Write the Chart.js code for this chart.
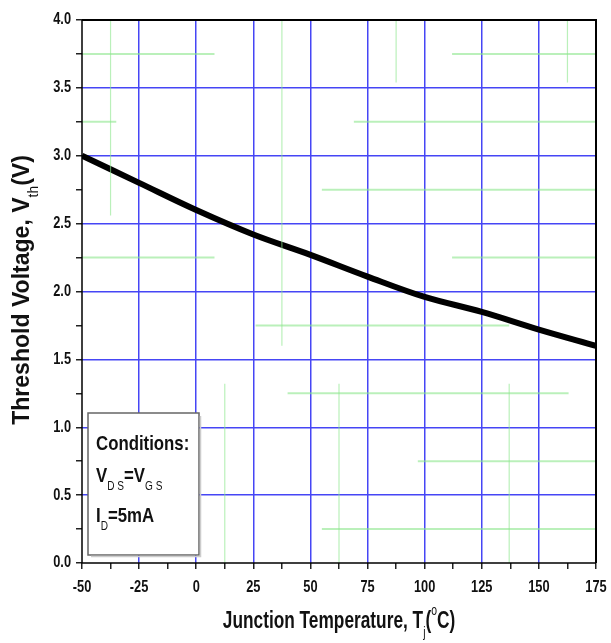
<!DOCTYPE html>
<html>
<head>
<meta charset="utf-8">
<script src="https://cdn.jsdelivr.net/npm/chart.js@4.4.0/dist/chart.umd.min.js"></script>
<style>
  html, body { margin: 0; padding: 0; background: #fff; }
  #wrap { width: 611px; height: 643px; position: relative; }
</style>
</head>
<body>
<div id="wrap"><canvas id="line-chart"></canvas></div>
<script>
// junction temperature (C) and threshold voltage (V)
var temps = [-50, -25, 0, 25, 50, 75, 100, 125, 150, 175];
var vth = [3.0, 2.80, 2.60, 2.42, 2.27, 2.11, 1.96, 1.85, 1.72, 1.60];

var xMin = -50, xMax = 175, xStep = 12.5, xLabelStep = 25;
var yMin = 0, yMax = 4.0, yStep = 0.25, yLabelStep = 0.5;

// faint green scan lines in the original: [voltage, fromTemp, toTemp] and [temp, fromV, toV]
var greenH = [[3.75, -50, 8], [3.25, -50, -35], [2.25, -50, 8], [3.75, 112, 175], [3.25, 69, 175],
              [2.75, 55, 175], [2.25, 112, 175], [1.75, 26, 137], [1.25, 40, 163], [0.75, 97, 175], [0.25, 55, 175]];
var greenV = [[-37.5, 4.0, 2.56], [37.5, 4.0, 1.6], [87.5, 4.0, 3.54], [162.5, 4.0, 3.54],
              [12.5, 1.32, 0], [62.5, 1.32, 0], [137, 1.32, 0]];

var fontName = "'Liberation Sans', Arial, sans-serif";

function isMajor(v, step) {
    return Math.abs(v / step - Math.round(v / step)) < 1e-6;
}

// text with sub/superscripts, parts = [[text, 'n'|'sub'|'sup'], ...]
function richWidth(ctx, parts, size) {
    var w = 0;
    for (var i = 0; i < parts.length; i++) {
        var s = parts[i][1] == 'n' ? size : size * 0.6;
        ctx.font = (parts[i][1] == 'n' ? 'bold ' : '') + s + 'px ' + fontName;
        w += ctx.measureText(parts[i][0]).width;
    }
    return w;
}
function richText(ctx, parts, x, y, size) {
    for (var i = 0; i < parts.length; i++) {
        var kind = parts[i][1];
        var s = kind == 'n' ? size : size * 0.6;
        var dy = kind == 'sub' ? size * 0.5 : (kind == 'sup' ? -size * 0.42 : 0);
        ctx.font = (kind == 'n' ? 'bold ' : '') + s + 'px ' + fontName;
        ctx.fillText(parts[i][0], x, y + dy);
        x += ctx.measureText(parts[i][0]).width;
    }
}

var extras = {
    id: 'extras',
    afterDraw: function(chart) {
        var ctx = chart.ctx, a = chart.chartArea;
        var sx = chart.scales.x, sy = chart.scales.y;
        ctx.save();
        // frame
        ctx.strokeStyle = '#000';
        ctx.lineWidth = 2;
        ctx.beginPath();
        ctx.moveTo(a.left, a.top); ctx.lineTo(a.right, a.top); ctx.lineTo(a.right, a.bottom);
        ctx.stroke();
        ctx.lineWidth = 1.5;
        ctx.beginPath();
        ctx.moveTo(a.left, a.top); ctx.lineTo(a.left, a.bottom); ctx.lineTo(a.right, a.bottom);
        ctx.stroke();

        // condensed tick labels
        ctx.fillStyle = '#111';
        ctx.textBaseline = 'middle';
        ctx.font = 'bold 16px ' + fontName;
        var cx = 0.8;
        ctx.textAlign = 'center';
        sx.ticks.forEach(function(t) {
            if (!isMajor(t.value, xLabelStep)) return;
            var px = sx.getPixelForValue(t.value);
            ctx.save();
            ctx.translate(px, 588);
            ctx.scale(cx, 1);
            ctx.fillText(String(t.value), 0, 0);
            ctx.restore();
        });
        ctx.textAlign = 'right';
        sy.ticks.forEach(function(t) {
            if (!isMajor(t.value, yLabelStep)) return;
            var py = sy.getPixelForValue(t.value);
            ctx.save();
            ctx.translate(71, py);
            ctx.scale(cx, 1);
            ctx.fillText(t.value.toFixed(1), 0, 0);
            ctx.restore();
        });
        ctx.textAlign = 'left';

        // x title (narrow)
        var xt = [['Junction Temperature, T', 'n'], ['j', 'sub'], ['(', 'n'], ['o', 'sup'], ['C)', 'n']];
        var w = richWidth(ctx, xt, 24);
        ctx.save();
        ctx.translate((a.left + a.right) / 2, 621);
        ctx.scale(0.72, 1);
        richText(ctx, xt, -w / 2, 0, 24);
        ctx.restore();
        // y title
        var yt = [['Threshold Voltage, V', 'n'], ['th', 'sub'], ['(V)', 'n']];
        ctx.save();
        ctx.translate(22, 290);
        ctx.rotate(-Math.PI / 2);
        w = richWidth(ctx, yt, 24);
        ctx.scale(0.96, 1);
        richText(ctx, yt, -w / 2, 0, 24);
        ctx.restore();
        ctx.restore();

        // conditions box
        ctx.save();
        ctx.fillStyle = '#fff';
        ctx.fillRect(88, 413, 111, 142);
        ctx.strokeStyle = '#666';
        ctx.lineWidth = 1.5;
        ctx.strokeRect(88, 413, 111, 142);
        ctx.strokeStyle = '#ccc';
        ctx.beginPath();
        ctx.moveTo(91, 556.5); ctx.lineTo(200.5, 556.5); ctx.lineTo(200.5, 416);
        ctx.stroke();
        ctx.fillStyle = '#111';
        ctx.textBaseline = 'middle';
        var lines = [
            [[['Conditions:', 'n']], 444],
            [[['V', 'n'], ['D S', 'sub'], ['=V', 'n'], ['G S', 'sub']], 476],
            [[['I', 'n'], ['D', 'sub'], ['=5mA', 'n']], 516]
        ];
        lines.forEach(function(l) {
            ctx.save();
            ctx.translate(96, l[1]);
            ctx.scale(0.8, 1);
            richText(ctx, l[0], 0, 0, 21);
            ctx.restore();
        });
        ctx.restore();
    }
};

var green = 'rgba(140,230,140,0.6)';
var datasets = [];
greenH.forEach(function(g) {
    datasets.push({ data: [{ x: g[1], y: g[0] }, { x: g[2], y: g[0] }], showLine: true,
        borderColor: green, borderWidth: 2, pointRadius: 0 });
});
greenV.forEach(function(g) {
    datasets.push({ data: [{ x: g[0], y: g[1] }, { x: g[0], y: g[2] }], showLine: true,
        borderColor: green, borderWidth: 1.2, pointRadius: 0 });
});
datasets.push({
    label: 'Vth',
    data: temps.map(function(t, i) { return { x: t, y: vth[i] }; }),
    showLine: true,
    borderColor: '#000',
    borderWidth: 6,
    pointRadius: 0,
    tension: 0.35
});

new Chart(document.getElementById("line-chart"), {
    type: 'scatter',
    data: { datasets: datasets },
    options: {
        responsive: true,
        maintainAspectRatio: false,
        animation: false,
        devicePixelRatio: 1,
        layout: { padding: { top: 20, right: 15, left: 0, bottom: 0 } },
        plugins: {
            legend: { display: false },
            tooltip: { enabled: false }
        },
        scales: {
            x: {
                type: 'linear',
                min: xMin, max: xMax,
                afterFit: function(s) { s.height = 80; },
                afterBuildTicks: function(s) {
                    var t = [];
                    for (var v = xMin; v <= xMax + 1e-6; v += xStep) t.push({ value: v });
                    s.ticks = t;
                },
                ticks: {
                    autoSkip: false,
                    maxRotation: 0,
                    color: 'transparent',
                    font: { family: fontName, size: 14, weight: 'bold' },
                    callback: function(v) { return isMajor(v, xLabelStep) ? v : ''; }
                },
                border: { display: false },
                grid: {
                    color: function(c) {
                        if (!c.tick) return 'transparent';
                        var v = c.tick.value;
                        if (v == xMin || v == xMax) return 'transparent';
                        return isMajor(v, xLabelStep) ? '#4646f5' : 'transparent';
                    },
                    tickColor: '#222',
                    lineWidth: 1.5,
                    tickLength: 6
                }
            },
            y: {
                min: yMin, max: yMax,
                afterFit: function(s) { s.width = 82; },
                afterBuildTicks: function(s) {
                    var t = [];
                    for (var v = yMin; v <= yMax + 1e-6; v += yStep) t.push({ value: v });
                    s.ticks = t;
                },
                ticks: {
                    autoSkip: false,
                    color: 'transparent',
                    font: { family: fontName, size: 14, weight: 'bold' },
                    callback: function(v) { return isMajor(v, yLabelStep) ? v.toFixed(1) : ''; }
                },
                border: { display: false },
                grid: {
                    color: function(c) {
                        if (!c.tick) return 'transparent';
                        var v = c.tick.value;
                        if (v == yMin || v == yMax) return 'transparent';
                        return isMajor(v, yLabelStep) ? '#4646f5' : 'transparent';
                    },
                    tickColor: '#222',
                    lineWidth: 1.5,
                    tickLength: 6
                }
            }
        }
    },
    plugins: [extras]
});
</script>
</body>
</html>
